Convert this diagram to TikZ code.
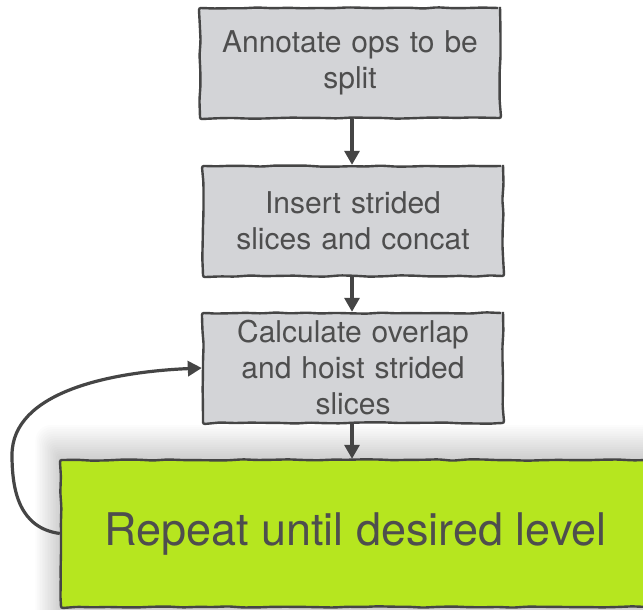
\documentclass[tikz,border=0pt]{standalone}
\usepackage{fontspec}
\setmainfont{TeX Gyre Heros}
\usetikzlibrary{arrows.meta,decorations.pathmorphing}
\definecolor{boxgray}{HTML}{D3D4D7}
\definecolor{edge}{HTML}{454545}
\definecolor{inktext}{HTML}{4E4E4E}
\definecolor{lime}{HTML}{B6E61F}
\begin{document}
\begin{tikzpicture}[x=1pt,y=-1pt,
  sketch/.style={decorate,decoration={random steps,segment length=15pt,amplitude=0.7pt},rounded corners=2pt},
  stepbox/.style={sketch,draw=edge,line width=2.4pt,fill=boxgray,minimum width=300pt,minimum height=110pt,
    text width=290pt,align=center,inner sep=0pt,text=inktext,font=\fontsize{30}{36}\selectfont},
  bigbox/.style={sketch,draw=edge,line width=2.4pt,fill=lime,minimum width=589pt,minimum height=147pt,
    align=center,inner sep=0pt,text=inktext,font=\fontsize{45}{54}\selectfont},
  flow/.style={draw=edge,line width=3.2pt,-{Triangle[length=14pt,width=15pt]}}]
\useasboundingbox[fill=white] (0,0) rectangle (643,610);
% soft halo round the green box
\foreach \i in {1,...,16}
  \fill[black,opacity=0.011,rounded corners=\i pt] (61-1.6*\i,460-2.2*\i) rectangle (650+1.6*\i,607+1.6*\i);
\node[stepbox] (annot) at (350,63) {Annotate ops to be\\split};
\node[stepbox] (insert) at (353,221) {Insert strided\\slices and concat};
\node[stepbox] (calc) at (353,368) {Calculate overlap\\and hoist strided\\slices};
\node[bigbox] (repeat) at (355.5,533.5) {Repeat until desired level};
\draw[flow] (annot.south -| 352,0) -- (insert.north -| 352,0);
\draw[flow] (insert.south -| 352,0) -- (calc.north -| 352,0);
\draw[flow] (calc.south -| 352,0) -- (repeat.north -| 352,0);
\draw[flow] (repeat.west) .. controls (20,528) and (12,492) .. (12,455)
  .. controls (12,392) and (110,372) .. (calc.west);
\end{tikzpicture}
\end{document}
